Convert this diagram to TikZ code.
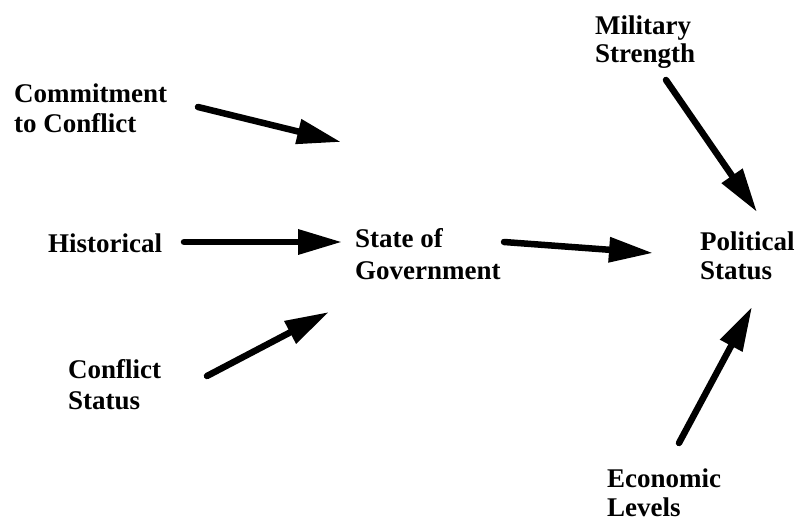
\documentclass[tikz,border=0pt]{standalone}
\usepackage{fontspec}
\setmainfont{Liberation Serif}
\usetikzlibrary{arrows.meta}
\tikzset{
  lbl/.style={anchor=base west, inner sep=0pt, align=left, font=\bfseries\fontsize{27}{#1}\selectfont},
  lbl/.default=30,
  arr/.style={line width=6.5pt, line cap=round, -{Triangle[length=44pt,width=24pt]}},
}
\begin{document}
\begin{tikzpicture}[x=1pt,y=-1pt]
\useasboundingbox (0,0) rectangle (796,521);
% labels (base anchor = baseline of last line)
\node[lbl=30] (commit) at (14,133) {Commitment\\to Conflict};
\node[lbl] (hist) at (48,253) {Historical};
\node[lbl=32] (cstat) at (68,410) {Conflict\\Status};
\node[lbl=32] (state) at (355,280) {State of\\Government};
\node[lbl=29] (pol) at (700,280) {Political\\Status};
\node[lbl=28] (mil) at (595,63) {Military\\Strength};
\node[lbl=29] (econ) at (607,516) {Economic\\Levels};
% connector ends
\coordinate (c1s) at (198,107); \coordinate (c1e) at (341,142);
\coordinate (c2s) at (184,242); \coordinate (c2e) at (342,242);
\coordinate (c3s) at (207,376); \coordinate (c3e) at (329,312);
\coordinate (c4s) at (504,242); \coordinate (c4e) at (653,253);
\coordinate (c5s) at (666,80);  \coordinate (c5e) at (757,212);
\coordinate (c6s) at (679,443); \coordinate (c6e) at (752,307);
% connectors
\draw[arr] (c1s) -- (c1e);
\draw[arr] (c2s) -- (c2e);
\draw[arr] (c3s) -- (c3e);
\draw[arr] (c4s) -- (c4e);
\draw[arr] (c5s) -- (c5e);
\draw[arr] (c6s) -- (c6e);
\end{tikzpicture}
\end{document}
